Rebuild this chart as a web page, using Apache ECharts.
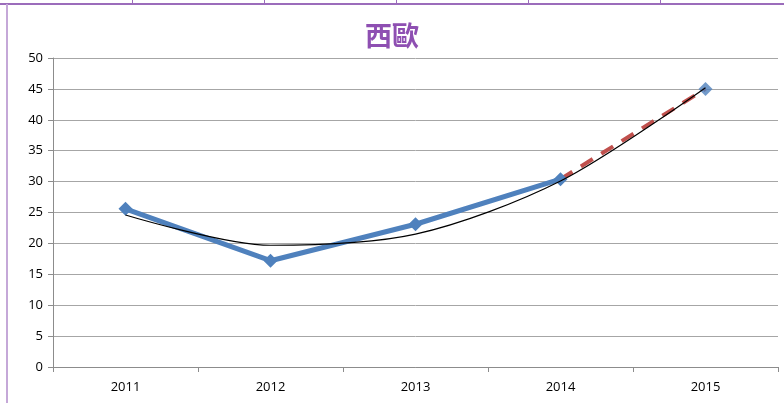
<!DOCTYPE html>
<html>
<head>
<meta charset="utf-8">
<script src="https://cdn.jsdelivr.net/npm/echarts@6/dist/echarts.min.js"></script>
<style>
  html, body { margin: 0; padding: 0; background: #fff; }
  #chart { width: 784px; height: 403px; }
</style>
</head>
<body>
<div id="chart"></div>
<script>
// 數據
var years = ['2011', '2012', '2013', '2014', '2015'];
var actual = [25.6, 17.2, 23.1, 30.4, '-'];
var forecast = ['-', '-', '-', 30.4, 45.0];
var trend = [24.6, 19.7, 21.5, 30.1, 45.2];
var yTicks = [0, 5, 10, 15, 20, 25, 30, 35, 40, 45, 50];

var myChart = echarts.init(document.getElementById('chart'));

var option = {
    backgroundColor: '#fff',
    animation: false,
    title: {
        text: '西歐',
        left: 'center',
        top: 17,
        textStyle: {
            fontFamily: 'Noto Sans CJK TC',
            fontSize: 27,
            fontWeight: 'bold',
            color: '#8e4fb2'
        }
    },
    // 外框線
    graphic: [
        { type: 'rect', shape: { x: 0, y: 3, width: 784, height: 2 }, style: { fill: '#9b6cbb' } },
        { type: 'rect', shape: { x: 6, y: 4, width: 2, height: 399 }, style: { fill: '#c5a8d8' } },
        { type: 'rect', shape: { x: 132, y: 0, width: 1, height: 4 }, style: { fill: '#9b6cbb' } },
        { type: 'rect', shape: { x: 264, y: 0, width: 1, height: 4 }, style: { fill: '#9b6cbb' } },
        { type: 'rect', shape: { x: 396, y: 0, width: 1, height: 4 }, style: { fill: '#9b6cbb' } },
        { type: 'rect', shape: { x: 528, y: 0, width: 1, height: 4 }, style: { fill: '#9b6cbb' } },
        { type: 'rect', shape: { x: 660, y: 0, width: 1, height: 4 }, style: { fill: '#9b6cbb' } }
    ],
    grid: { left: 53, right: 6, top: 58, bottom: 36 },
    xAxis: {
        type: 'category',
        data: years,
        boundaryGap: true,
        axisLine: { lineStyle: { color: '#8c8c8c', width: 1 } },
        axisTick: { show: true, length: 5, lineStyle: { color: '#8c8c8c' } },
        axisLabel: { color: '#000', fontFamily: 'Open Sans', fontSize: 13, margin: 14 }
    },
    yAxis: {
        type: 'value',
        min: yTicks[0],
        max: yTicks[yTicks.length - 1],
        interval: 5,
        axisLine: { show: true, lineStyle: { color: '#8c8c8c', width: 1 } },
        axisTick: { show: true, length: 5, lineStyle: { color: '#8c8c8c' } },
        axisLabel: { color: '#000', fontFamily: 'Open Sans', fontSize: 13, margin: 10 },
        splitLine: { lineStyle: { color: '#a6a6a6', width: 1 } }
    },
    series: [
        {
            name: '實際',
            type: 'line',
            data: actual,
            symbol: 'diamond',
            symbolSize: 14,
            z: 3,
            lineStyle: { color: '#4f81bd', width: 5 },
            itemStyle: { color: '#4f81bd' }
        },
        {
            name: '預測',
            type: 'line',
            data: forecast,
            symbol: 'none',
            z: 2,
            lineStyle: { color: '#c0504d', width: 4, type: [14, 10] }
        },
        {
            name: '預測點',
            type: 'scatter',
            data: ['-', '-', '-', '-', 45.0],
            symbol: 'diamond',
            symbolSize: 14,
            z: 3,
            itemStyle: { color: '#4f81bd' }
        },
        {
            name: '趨勢',
            type: 'line',
            data: trend,
            smooth: 0.3,
            symbol: 'none',
            z: 4,
            lineStyle: { color: '#000', width: 1.2 }
        }
    ]
};

myChart.setOption(option);
</script>
</body>
</html>
